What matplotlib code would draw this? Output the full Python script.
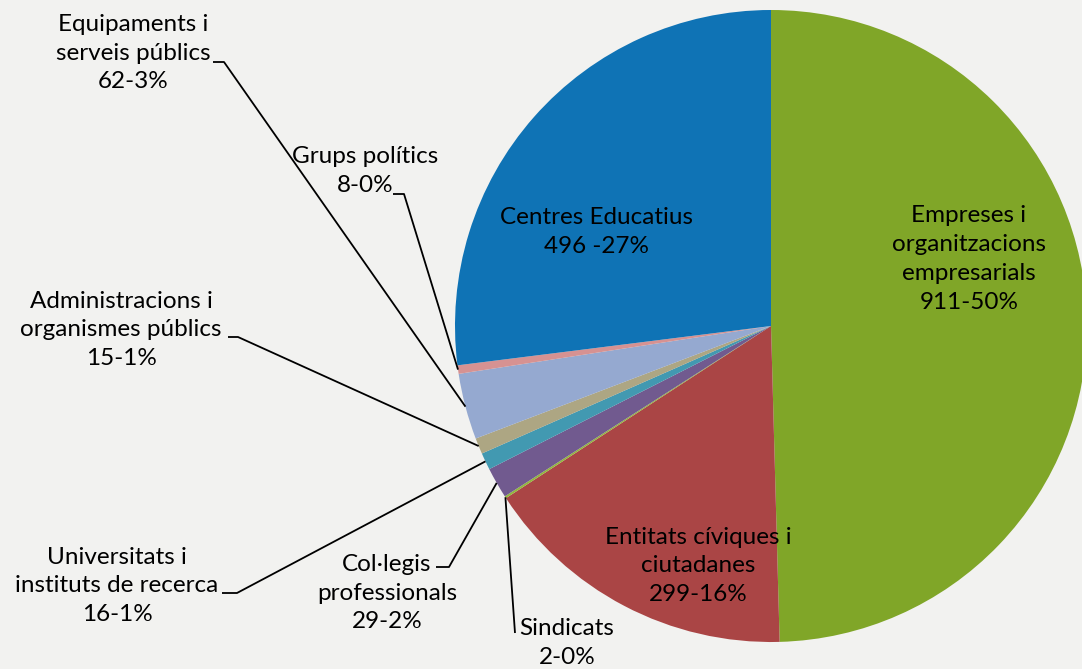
import numpy as np
import matplotlib
matplotlib.use('Agg')
import matplotlib.pyplot as plt

W, H = 1082, 669

# data (clockwise from 12 o'clock)
categories = ['Empreses i\norganitzacions\nempresarials',
              'Entitats cíviques i\nciutadanes',
              'Sindicats',
              'Col·legis\nprofessionals',
              'Universitats i\ninstituts de recerca',
              'Administracions i\norganismes públics',
              'Equipaments i\nserveis públics',
              'Grups polítics',
              'Centres Educatius']
values = [911, 299, 2, 29, 16, 15, 62, 8, 496]
separators = ['-', '-', '-', '-', '-', '-', '-', '-', ' -']

colors = ['#80A628', '#AA4545', '#93B73E', '#715A8F', '#4299B1',
          '#ADA683', '#95A9D0', '#D69292', '#0F73B5']

# label layout, pixel coords: (text x, text y, elbow points or None)
layout = [
    (969, 259, None),
    (698, 566, None),
    (567, 643, [(515, 633)]),
    (387, 593, [(449, 567), (436, 567)]),
    (117, 586, [(237, 593), (222, 593)]),
    (121, 330, [(238, 337), (228, 337)]),
    (133, 53, [(224, 62), (213, 62)]),
    (365, 171, [(404, 194), (393, 194)]),
    (597, 232, None),
]

plt.rcParams['font.family'] = ['Lato', 'DejaVu Sans']

fig = plt.figure(figsize=(W / 100, H / 100), dpi=100)
fig.patch.set_facecolor('#F2F2F0')
ax = fig.add_axes([0, 0, 1, 1])
ax.set_facecolor('#F2F2F0')

cx, cy, r = 771, 326, 316
wedges, _ = ax.pie(values, colors=colors, startangle=-90, counterclock=True,
                   center=(cx, cy), radius=r,
                   wedgeprops=dict(linewidth=0))
ax.set_xlim(0, W)
ax.set_ylim(H, 0)
ax.set_aspect('auto')
ax.axis('off')

total = float(sum(values))
for cat, v, sep, w, (tx, ty, elbow) in zip(categories, values, separators, wedges, layout):
    pct = int(round(100 * v / total))
    txt = '%s\n%d%s%d%%' % (cat, v, sep, pct)
    ax.text(tx, ty, txt, ha='center', va='center', fontsize=17.5,
            linespacing=1.47, color='black')
    if elbow is not None:
        mid = np.deg2rad((w.theta1 + w.theta2) / 2)
        ax_ = cx + r * np.cos(mid)
        ay_ = cy + r * np.sin(mid)
        xs = [ax_] + [p[0] for p in elbow]
        ys = [ay_] + [p[1] for p in elbow]
        ax.plot(xs, ys, color='black', lw=1.3, solid_capstyle='butt')

fig.savefig('out.png', dpi=100, facecolor=fig.get_facecolor())
